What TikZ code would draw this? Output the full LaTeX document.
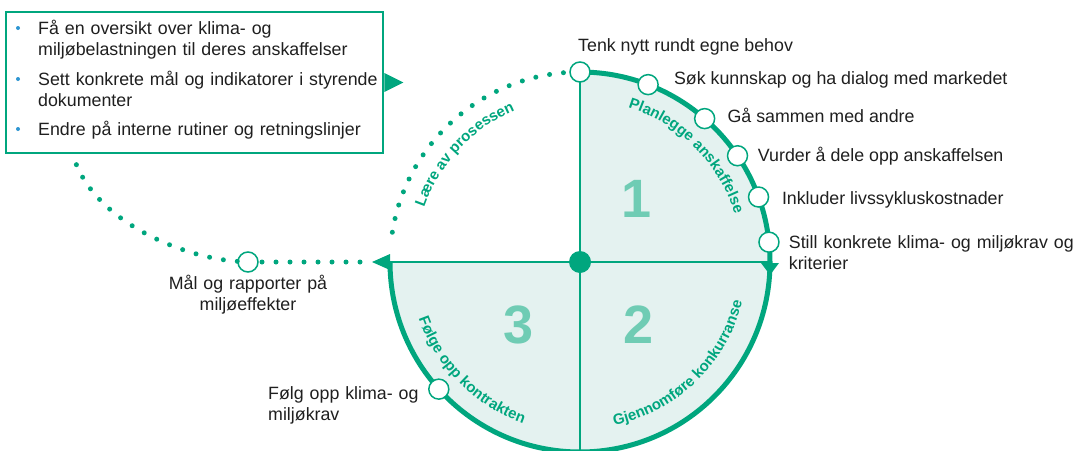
\documentclass[tikz,border=0pt]{standalone}
\usepackage{fontspec}
\setmainfont{Liberation Sans}
\usetikzlibrary{positioning,calc,decorations.text}

\definecolor{grn}{RGB}{0,166,126}
\definecolor{paleg}{RGB}{228,242,240}
\definecolor{numg}{RGB}{111,204,180}
\definecolor{bulb}{RGB}{46,150,210}
\newcommand{\arcfont}{\fontsize{15}{15}\selectfont\bfseries}

\tikzset{
  stop/.style={circle, draw=grn, line width=1.5pt, fill=white, minimum size=20pt, inner sep=0pt},
  lbl/.style={font=\fontsize{17.8}{21}\selectfont, inner sep=0pt, text=black!88},
  cross/.style={draw=grn, line width=1.5pt},
  rim/.style={draw=grn, line width=5pt},
  dots/.style={draw=grn, line width=5pt, line cap=round, dash pattern=on 0pt off 14pt},
  num/.style={font=\fontsize{54}{54}\selectfont\bfseries, text=numg, inner sep=0pt},
  arclbl/.style={decorate, decoration={text along path, text align=center, text color=grn, text={|\arcfont|#1}}},
  infobox/.style={draw=grn, line width=2.5pt, fill=white, minimum width=377pt, minimum height=141pt},
  bul/.style={circle, fill=bulb, minimum size=4pt, inner sep=0pt}
}

\begin{document}
\begin{tikzpicture}[x=1pt,y=1pt]
  \useasboundingbox (0,0) rectangle (1073,-450);
  \coordinate (c) at (580,-262);
  \coordinate (top) at (580,-72);
  \coordinate (bot) at (580,-452);
  \coordinate (lft) at (390,-262);
  \coordinate (rgt) at (770,-262);

  % three filled quarters
  \fill[paleg] (c) -- (top) arc[start angle=90,end angle=-180,radius=190] -- cycle;
  \draw[cross] (top) -- (bot);
  \draw[cross] (lft) -- (rgt);
  \draw[rim] (top) arc[start angle=90,end angle=-180,radius=190];
  \draw[dots] (c) ++(95:190) arc[start angle=95,end angle=175,radius=190];

  % box
  \node[infobox] (box) at (194.5,-82.5) {};
  \node[lbl, text width=360pt, anchor=base west] (b1) at (38,-34) {Få en oversikt over klima- og\\miljøbelastningen til deres anskaffelser};
  \node[lbl, text width=360pt, anchor=base west] (b2) at (38,-85) {Sett konkrete mål og indikatorer i styrende\\dokumenter};
  \node[lbl, text width=360pt, anchor=base west] (b3) at (38,-135) {Endre på interne rutiner og retningslinjer};
  \node[bul] at ([xshift=-20pt,yshift=6pt]b1.base west) {};
  \node[bul] at ([xshift=-20pt,yshift=6pt]b2.base west) {};
  \node[bul] at ([xshift=-20pt,yshift=6pt]b3.base west) {};

  % stops
  \node[stop] (m1) at (248,-262) {};
  \draw[dots] ([xshift=-30pt]lft) -- (m1);
  \draw[dots] (m1) .. controls (185,-258) and (92,-222) .. ([xshift=68pt]box.south west);

  \node[stop] (s0) at (top) {};
  \node[stop] (s1) at ($(c)+(69:190)$) {};
  \node[stop] (s2) at ($(c)+(49:190)$) {};
  \node[stop] (s3) at ($(c)+(34:190)$) {};
  \node[stop] (s4) at ($(c)+(20:190)$) {};
  \node[stop] (s5) at ($(c)+(6:190)$) {};
  \node[stop] (f1) at ($(c)+(222:190)$) {};
  \node[circle, fill=grn, minimum size=22pt, inner sep=0pt] (hub) at (c) {};

  % arrow tips
  \fill[grn] ([xshift=-9pt,yshift=-1pt]rgt) -- ([xshift=9pt,yshift=-1pt]rgt) -- ([yshift=-13pt]rgt) -- cycle;
  \fill[grn] ([yshift=8pt]lft) -- ([yshift=-8pt]lft) -- ([xshift=-18pt]lft) -- cycle;
  \fill[grn] ([yshift=9.5pt]box.east) -- ([yshift=-9.5pt]box.east) -- ([xshift=19pt]box.east) -- cycle;

  % labels
  \node[lbl, above=10pt of s0, anchor=base west, xshift=-2pt] (t0) {Tenk nytt rundt egne behov};
  \node[lbl, right=15pt of s1, anchor=base west] (t1) {Søk kunnskap og ha dialog med markedet};
  \node[lbl, right=12pt of s2, anchor=base west, yshift=-3.5pt] (t2) {Gå sammen med andre};
  \node[lbl, right=9.5pt of s3, anchor=base west, yshift=-6pt] (t3) {Vurder å dele opp anskaffelsen};
  \node[lbl, right=12.5pt of s4, anchor=base west, yshift=-7pt] (t4) {Inkluder livssykluskostnader};
  \node[lbl, right=9pt of s5, anchor=base west, yshift=-6pt, text width=290pt] (t5) {Still konkrete klima- og miljøkrav og\\kriterier};
  \node[lbl, below=17pt of m1, anchor=base, text width=180pt, align=center] (tm) {Mål og rapporter på\\miljøeffekter};
  \node[lbl, text width=170pt, anchor=base west] (tf) at (268,-399) {Følg opp klima- og\\miljøkrav};

  % numbers
  \node[num] (n1) at ($(c)+(57,63)$) {1};
  \node[num] (n2) at ($(c)+(59,-63)$) {2};
  \node[num] (n3) at ($(c)+(-61,-63)$) {3};

  % curved phase names
  \path[arclbl={Planlegge anskaffelse}] (c) ++(85:162) arc[start angle=85,end angle=5,radius=162];
  \path[arclbl={Gjennomføre konkurranse}] (c) ++(-88:167) arc[start angle=-88,end angle=-4,radius=167];
  \path[arclbl={Følge opp kontrakten}] (c) ++(184:171) arc[start angle=184,end angle=266,radius=171];
  \path[arclbl={Lære av prosessen}] (c) ++(180:165) arc[start angle=180,end angle=94,radius=165];
\end{tikzpicture}
\end{document}
